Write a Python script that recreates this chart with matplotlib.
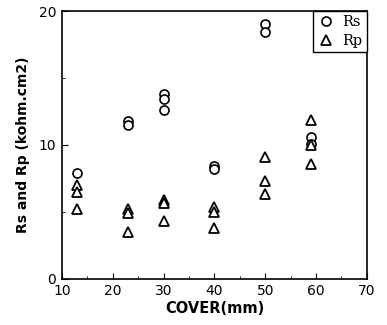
import matplotlib
matplotlib.use("Agg")
import matplotlib.pyplot as plt
from matplotlib.ticker import MultipleLocator

# cover depth (mm) for each measurement
rs_cover = [13, 23, 23, 30, 30, 30, 40, 40, 50, 50, 59, 59]
rs_value = [7.9, 11.8, 11.5, 13.8, 13.4, 12.6, 8.4, 8.2, 19.0, 18.4, 10.6, 10.1]

rp_cover = [13, 13, 13, 23, 23, 23, 30, 30, 30, 40, 40, 40, 50, 50, 50, 59, 59, 59]
rp_value = [7.0, 6.5, 5.2, 5.2, 4.9, 3.5, 5.9, 5.7, 4.35, 5.4, 5.0, 3.8,
            9.1, 7.3, 6.3, 11.9, 10.0, 8.6]

fig = plt.figure(figsize=(3.87, 3.25), dpi=100)
ax = fig.add_axes([0.160, 0.142, 0.788, 0.824])

ax.plot(rs_cover, rs_value, "o", mfc="white", mec="black", mew=1.2, ms=6.5,
        linestyle="none", label="Rs")
ax.plot(rp_cover, rp_value, "^", mfc="white", mec="black", mew=1.3, ms=7.5,
        linestyle="none", label="Rp")

ax.set_xlim(10, 70)
ax.set_ylim(0, 20)
ax.xaxis.set_major_locator(MultipleLocator(10))
ax.xaxis.set_minor_locator(MultipleLocator(5))
ax.yaxis.set_major_locator(MultipleLocator(10))
ax.yaxis.set_minor_locator(MultipleLocator(5))
ax.tick_params(which="both", direction="in", top=False, right=False)
ax.tick_params(which="major", length=4, labelsize=10, pad=4)
ax.tick_params(which="minor", length=2.5)
for s in ax.spines.values():
    s.set_linewidth(1.2)

ax.set_xlabel("COVER(mm)", fontsize=10.5, fontweight="bold", labelpad=2)
ax.set_ylabel("Rs and Rp (kohm.cm2)", fontsize=10, fontweight="bold", labelpad=6)

leg = ax.legend(loc="upper right", borderaxespad=0, fancybox=False,
                edgecolor="black", framealpha=1, handletextpad=0.5,
                borderpad=0.3, labelspacing=0.3, handlelength=1.2,
                prop={"family": "DejaVu Serif", "size": 10.5})
leg.get_frame().set_linewidth(1.0)

fig.savefig("out.png", dpi=100)
